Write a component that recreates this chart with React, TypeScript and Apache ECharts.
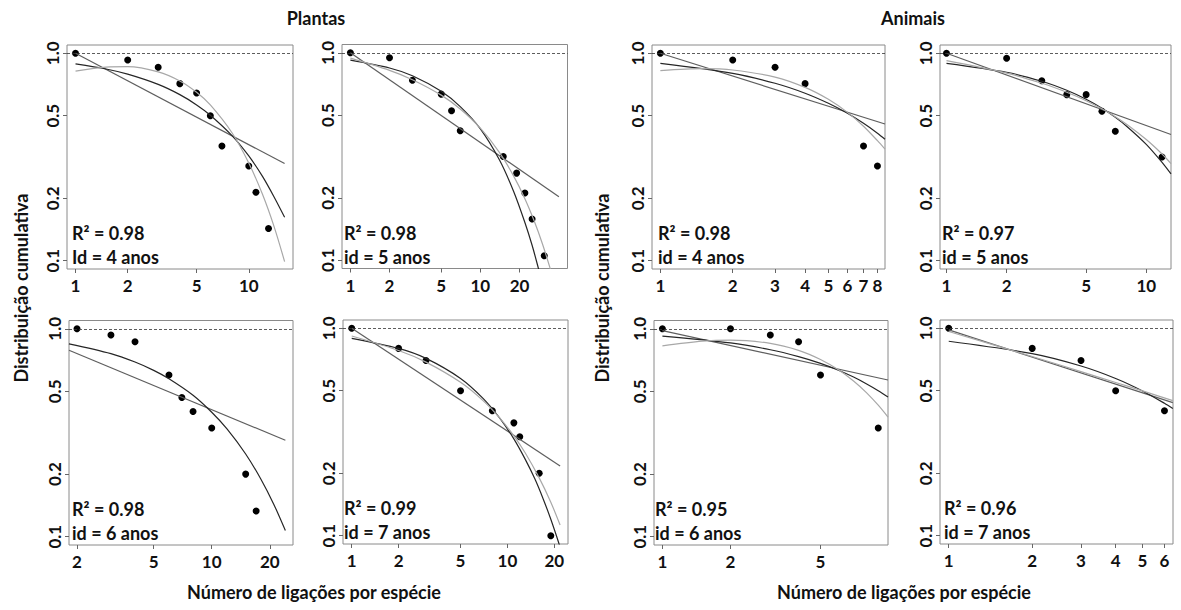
import React, { useEffect, useRef } from "react";
import * as echarts from "echarts";

const FONT = "Lato, 'Open Sans', sans-serif";

// ---------- tick labels ----------
const yTicks = [0.1, 0.2, 0.5, 1];
const xTicksP1 = [1, 2, 5, 10];
const xTicksP2 = [1, 2, 5, 10, 20];
const xTicksP3 = [1, 2, 3, 4, 5, 6, 7, 8];
const xTicksP4 = [1, 2, 5, 10];
const xTicksP5 = [2, 5, 10, 20];
const xTicksP6 = [1, 2, 5, 10, 20];
const xTicksP7 = [1, 2, 5];
const xTicksP8 = [1, 2, 3, 4, 5, 6];

// ---------- Plantas, 4 anos ----------
const plantas4X = [1, 2, 3, 4, 5, 6, 7, 10, 11, 13];
const plantas4Y = [1, 0.929, 0.857, 0.714, 0.643, 0.5, 0.357, 0.286, 0.214, 0.143];
const plantas4Pow = [[1, 1.0], [16.1, 0.294]];
const plantas4Exp = [[1, 0.889], [1.5, 0.84], [2, 0.793], [3, 0.708], [4, 0.632], [5, 0.564], [6, 0.503], [8, 0.401], [10, 0.32], [12, 0.255], [14, 0.203], [16.1, 0.162]];
const plantas4Tpl = [[1, 0.82], [1.5, 0.858], [2, 0.862], [3, 0.814], [4, 0.736], [5, 0.649], [6, 0.564], [8, 0.414], [10, 0.296], [12, 0.209], [14, 0.146], [16.1, 0.099]];

// ---------- Plantas, 5 anos ----------
const plantas5X = [1, 2, 3, 5, 6, 7, 15, 19, 22, 25, 31];
const plantas5Y = [1, 0.947, 0.737, 0.632, 0.526, 0.421, 0.316, 0.263, 0.211, 0.158, 0.105];
const plantas5Pow = [[1, 1.0], [40.2, 0.2025]];
const plantas5Exp = [[1, 0.922], [2, 0.845], [3, 0.775], [5, 0.652], [7, 0.55], [10, 0.43], [14, 0.305], [18, 0.215], [22, 0.152], [25, 0.118], [28, 0.091], [30, 0.077]];
const plantas5Tpl = [[1, 0.942], [2, 0.823], [3, 0.742], [5, 0.625], [7, 0.536], [10, 0.433], [14, 0.331], [18, 0.255], [22, 0.198], [26, 0.154], [30, 0.12], [34.5, 0.091], [36, 0.083]];

// ---------- Animais, 4 anos ----------
const animais4X = [1, 2, 3, 4, 7, 8];
const animais4Y = [1, 0.929, 0.857, 0.714, 0.357, 0.286];
const animais4Pow = [[1, 1.0], [8.6, 0.456]];
const animais4Exp = [[1, 0.895], [2, 0.801], [3, 0.717], [4, 0.642], [5, 0.574], [6, 0.514], [7, 0.46], [8, 0.412], [8.6, 0.385]];
const animais4Tpl = [[1, 0.825], [1.5, 0.843], [2, 0.831], [3, 0.768], [4, 0.685], [5, 0.6], [6, 0.519], [7, 0.445], [8, 0.379], [8.6, 0.345]];

// ---------- Animais, 5 anos ----------
const animais5X = [1, 2, 3, 4, 5, 6, 7, 12];
const animais5Y = [1, 0.947, 0.737, 0.632, 0.632, 0.526, 0.421, 0.316];
const animais5Pow = [[1, 1.0], [13.3, 0.406]];
const animais5Exp = [[1, 0.895], [2, 0.81], [3, 0.733], [4, 0.663], [5, 0.6], [6, 0.543], [7, 0.491], [8, 0.444], [10, 0.364], [12, 0.298], [13.3, 0.262]];
const animais5Tpl = [[1, 0.921], [2, 0.802], [3, 0.717], [4, 0.649], [5, 0.591], [6, 0.54], [7, 0.495], [8, 0.454], [10, 0.384], [12, 0.327], [13.3, 0.294]];

// ---------- Plantas, 6 anos ----------
const plantas6X = [2, 3, 4, 6, 7, 8, 10, 15, 17];
const plantas6Y = [1, 0.933, 0.867, 0.6, 0.467, 0.4, 0.333, 0.2, 0.133];
const plantas6Pow = [[1.818, 0.789], [24.1, 0.291]];
const plantas6Exp = [[1.818, 0.847], [3, 0.76], [4, 0.692], [5, 0.631], [6, 0.575], [8, 0.479], [10, 0.397], [12, 0.33], [15, 0.25], [18, 0.189], [21, 0.143], [24.1, 0.107]];

// ---------- Plantas, 7 anos ----------
const plantas7X = [1, 2, 3, 5, 8, 11, 12, 16, 19];
const plantas7Y = [1, 0.8, 0.7, 0.5, 0.4, 0.35, 0.3, 0.2, 0.1];
const plantas7Pow = [[1, 1.0], [21.8, 0.217]];
const plantas7Exp = [[1, 0.895], [2, 0.8], [3, 0.716], [5, 0.573], [7, 0.458], [9, 0.366], [11, 0.293], [13, 0.234], [15, 0.188], [17, 0.15], [19, 0.12], [21.5, 0.091], [23, 0.077]];
const plantas7Tpl = [[1, 0.918], [2, 0.782], [3, 0.687], [5, 0.549], [7, 0.447], [9, 0.367], [11, 0.303], [13, 0.251], [16, 0.19], [19, 0.145], [21.8, 0.1125]];

// ---------- Animais, 6 anos ----------
const animais6X = [1, 2, 3, 4, 5, 9];
const animais6Y = [1, 1, 0.933, 0.867, 0.6, 0.333];
const animais6Pow = [[1, 0.98], [9.94, 0.567]];
const animais6Exp = [[1, 0.922], [2, 0.855], [3, 0.793], [4, 0.735], [5, 0.682], [6, 0.632], [7, 0.586], [8, 0.543], [9, 0.504], [9.94, 0.47]];
const animais6Tpl = [[1, 0.828], [1.5, 0.872], [2, 0.883], [3, 0.851], [4, 0.788], [5, 0.712], [6, 0.635], [7, 0.561], [8, 0.492], [9, 0.429], [9.94, 0.376]];

// ---------- Animais, 7 anos ----------
const animais7X = [1, 2, 3, 4, 6];
const animais7Y = [1, 0.8, 0.7, 0.5, 0.4];
const animais7Pow = [[1, 0.982], [6.43, 0.438]];
const animais7Exp = [[1, 0.866], [2, 0.755], [3, 0.658], [4, 0.573], [5, 0.499], [6, 0.435], [6.43, 0.41]];
const animais7Tpl = [[1, 0.965], [2, 0.731], [3, 0.618], [4, 0.548], [5, 0.499], [6.43, 0.448]];

// ---------- layout (pixel boxes and axis extents) ----------
const panels = [
  { box: [67, 45, 226, 224], xMin: 0.893, xMax: 18.0, xTicks: xTicksP1, ptsX: plantas4X, ptsY: plantas4Y, pow: plantas4Pow, exp: plantas4Exp, tpl: plantas4Tpl, r2: "R² = 0.98", id: "Id = 4 anos", dx: 5 },
  { box: [342, 44.5, 225.5, 224], xMin: 0.862, xMax: 46.8, xTicks: xTicksP2, ptsX: plantas5X, ptsY: plantas5Y, pow: plantas5Pow, exp: plantas5Exp, tpl: plantas5Tpl, r2: "R² = 0.98", id: "id = 5 anos", dx: 2 },
  { box: [652, 45, 233, 224], xMin: 0.923, xMax: 8.6, xTicks: xTicksP3, ptsX: animais4X, ptsY: animais4Y, pow: animais4Pow, exp: animais4Exp, tpl: animais4Tpl, r2: "R² = 0.98", id: "id = 4 anos", dx: 6 },
  { box: [940, 45, 231, 224], xMin: 0.928, xMax: 13.3, xTicks: xTicksP4, ptsX: animais5X, ptsY: animais5Y, pow: animais5Pow, exp: animais5Exp, tpl: animais5Tpl, r2: "R² = 0.97", id: "id = 5 anos", dx: 2 },
  { box: [69, 320.5, 224, 224.5], xMin: 1.818, xMax: 26.4, xTicks: xTicksP5, ptsX: plantas6X, ptsY: plantas6Y, pow: plantas6Pow, exp: plantas6Exp, tpl: null, r2: "R² = 0.98", id: "id = 6 anos", dx: 3 },
  { box: [343, 320, 225, 224], xMin: 0.879, xMax: 24.5, xTicks: xTicksP6, ptsX: plantas7X, ptsY: plantas7Y, pow: plantas7Pow, exp: plantas7Exp, tpl: plantas7Tpl, r2: "R² = 0.99", id: "id = 7 anos", dx: 1 },
  { box: [654, 320.5, 234, 224.5], xMin: 0.918, xMax: 9.94, xTicks: xTicksP7, ptsX: animais6X, ptsY: animais6Y, pow: animais6Pow, exp: animais6Exp, tpl: animais6Tpl, r2: "R² = 0.95", id: "id = 6 anos", dx: 1 },
  { box: [940, 320, 233, 224], xMin: 0.93, xMax: 6.44, xTicks: xTicksP8, ptsX: animais7X, ptsY: animais7Y, pow: animais7Pow, exp: animais7Exp, tpl: animais7Tpl, r2: "R² = 0.96", id: "id = 7 anos", dx: 4 },
];

const Y_MIN = 0.0912;
const Y_MAX = 1.0965;

function buildOption() {
  const grid: any[] = [];
  const xAxis: any[] = [];
  const yAxis: any[] = [];
  const series: any[] = [];
  const graphic: any[] = [];

  panels.forEach((p, i) => {
    const [left, top, width, height] = p.box;
    grid.push({ left, top, width, height, show: true, borderColor: "#8a8a8a", borderWidth: 1, backgroundColor: "transparent" });
    xAxis.push({
      type: "log", logBase: 10, gridIndex: i, min: p.xMin, max: p.xMax,
      axisLine: { show: false }, splitLine: { show: false }, minorTick: { show: false },
      axisTick: { show: true, length: 4, inside: false, customValues: p.xTicks, lineStyle: { color: "#666", width: 1 } },
      axisLabel: {
        customValues: p.xTicks, margin: 8, fontSize: 17, fontWeight: "bold", fontFamily: FONT, color: "#111",
        formatter: (v: number) => String(Math.round(v)),
      },
    });
    yAxis.push({
      type: "log", logBase: 10, gridIndex: i, min: Y_MIN, max: Y_MAX,
      axisLine: { show: false }, splitLine: { show: false }, minorTick: { show: false },
      axisTick: { show: true, length: 4, inside: false, customValues: yTicks, lineStyle: { color: "#666", width: 1 } },
      axisLabel: {
        customValues: yTicks, rotate: 90, margin: 6, fontSize: 17, fontWeight: "bold", fontFamily: FONT, color: "#111",
        formatter: (v: number) => v.toFixed(1),
      },
    });
    const lineBase = { type: "line", xAxisIndex: i, yAxisIndex: i, showSymbol: false, symbol: "none", silent: true, clip: true };
    series.push({ ...lineBase, data: p.pow, lineStyle: { color: "#5e5e5e", width: 1.2 } });
    series.push({ ...lineBase, data: p.exp, smooth: 0.3, lineStyle: { color: "#262626", width: 1.2 } });
    if (p.tpl) series.push({ ...lineBase, data: p.tpl, smooth: 0.3, lineStyle: { color: "#a8a8a8", width: 1.2 } });
    series.push({
      type: "scatter", xAxisIndex: i, yAxisIndex: i, symbolSize: 7, silent: true,
      itemStyle: { color: "#000", opacity: 1 },
      data: p.ptsX.map((x, k) => [x, p.ptsY[k]]),
      markLine: {
        silent: true, symbol: "none", label: { show: false },
        lineStyle: { type: [3, 2], color: "#333", width: 0.8, opacity: 1 },
        data: [{ yAxis: 1 }],
      },
    });
    graphic.push({
      type: "text", x: left + p.dx, y: top + 188,
      style: { text: p.r2, fill: "#111", font: `bold 18px ${FONT}`, verticalAlign: "middle", align: "left" },
    });
    graphic.push({
      type: "text", x: left + p.dx, y: top + 212,
      style: { text: p.id, fill: "#111", font: `bold 18px ${FONT}`, verticalAlign: "middle", align: "left" },
    });
  });

  const titleFont = `bold 18px ${FONT}`;
  const axisFont = `bold 18px ${FONT}`;
  graphic.push({ type: "text", x: 316, y: 18, style: { text: "Plantas", font: titleFont, fill: "#111", align: "center", verticalAlign: "middle" } });
  graphic.push({ type: "text", x: 913, y: 18, style: { text: "Animais", font: titleFont, fill: "#111", align: "center", verticalAlign: "middle" } });
  graphic.push({ type: "text", x: 314, y: 592, style: { text: "Número de ligações por espécie", font: axisFont, fill: "#111", align: "center", verticalAlign: "middle" } });
  graphic.push({ type: "text", x: 904, y: 592, style: { text: "Número de ligações por espécie", font: axisFont, fill: "#111", align: "center", verticalAlign: "middle" } });
  graphic.push({ type: "text", x: 21, y: 288, rotation: Math.PI / 2, style: { text: "Distribuição cumulativa", font: axisFont, fill: "#111", align: "center", verticalAlign: "middle" } });
  graphic.push({ type: "text", x: 602, y: 288, rotation: Math.PI / 2, style: { text: "Distribuição cumulativa", font: axisFont, fill: "#111", align: "center", verticalAlign: "middle" } });

  return { animation: false, backgroundColor: "#fff", grid, xAxis, yAxis, series, graphic };
}

export default function App() {
  const ref = useRef<HTMLDivElement>(null);
  useEffect(() => {
    if (!ref.current) return;
    const chart = echarts.init(ref.current, undefined, { renderer: "svg" });
    chart.setOption(buildOption() as any);
    return () => chart.dispose();
  }, []);
  return <div ref={ref} style={{ position: "fixed", left: 0, top: 0, width: 1181, height: 610, background: "#fff" }} />;
}
